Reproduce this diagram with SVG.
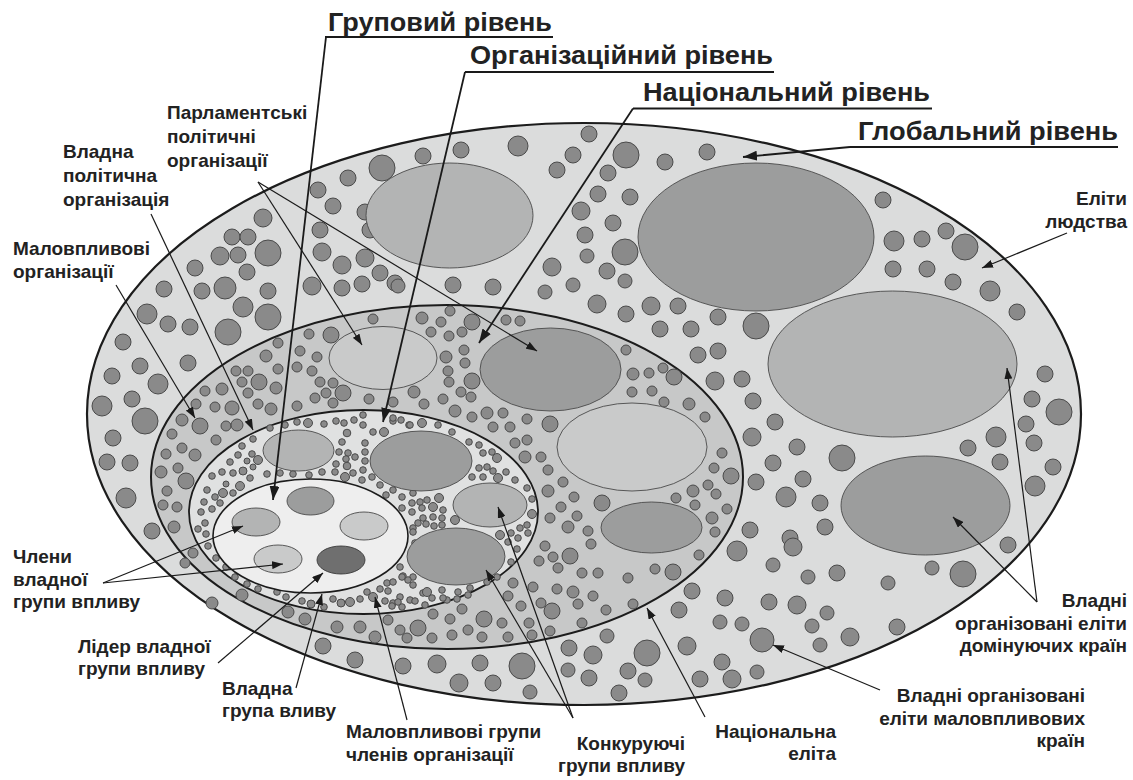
<svg xmlns="http://www.w3.org/2000/svg" width="1133" height="780" viewBox="0 0 1133 780">
<defs>
<style>
.t{font-family:"Liberation Sans",Arial,sans-serif;font-weight:bold;fill:#222}
.h{font-size:25px}
.l{font-size:19px}
.e{text-anchor:end}
.b0{fill:#dbdcdc;stroke:#1c1c1c;stroke-width:2.2}
.b1{fill:#c7c8c8;stroke:#1c1c1c;stroke-width:2}
.b2{fill:#e0e1e1;stroke:#1c1c1c;stroke-width:1.8}
.b3{fill:#eeeeee;stroke:#1c1c1c;stroke-width:1.6}
.g1{fill:#9c9d9d;stroke:#4a4a4a;stroke-width:0.9}
.g2{fill:#b3b4b4;stroke:#4a4a4a;stroke-width:0.9}
.g3{fill:#c9caca;stroke:#4a4a4a;stroke-width:0.9}
.g4{fill:#6f6f6f;stroke:#3a3a3a;stroke-width:0.9}
.s circle{fill:#8a8a8a;stroke:#4a4a4a;stroke-width:1}
.ln{stroke:#1a1a1a;stroke-width:1.2;fill:none}
.lt{stroke:#1a1a1a;stroke-width:1.8;fill:none}
.ul{stroke:#1a1a1a;stroke-width:1.8}
</style>
<marker id="a" markerUnits="userSpaceOnUse" markerWidth="11" markerHeight="8" refX="11" refY="4" orient="auto"><path d="M0,0 L11,4 L0,8 z" fill="#1a1a1a"/></marker>
<marker id="A" markerUnits="userSpaceOnUse" markerWidth="14" markerHeight="10" refX="14" refY="5" orient="auto"><path d="M0,0 L14,5 L0,10 z" fill="#1a1a1a"/></marker>
</defs>

<g id="global-level">
<ellipse class="b0" cx="584" cy="414" rx="497" ry="291"/>
<g class="s">
<circle cx="382" cy="168" r="13"/><circle cx="348" cy="178" r="8"/><circle cx="318" cy="190" r="8"/><circle cx="333" cy="206" r="8"/><circle cx="365" cy="212" r="8"/><circle cx="370" cy="230" r="8"/><circle cx="320" cy="230" r="8"/><circle cx="263" cy="218" r="9"/><circle cx="232" cy="237" r="8"/><circle cx="248" cy="237" r="8"/><circle cx="268" cy="253" r="13"/><circle cx="220" cy="256" r="9"/><circle cx="238" cy="255" r="8"/><circle cx="195" cy="268" r="8"/><circle cx="247" cy="272" r="8"/><circle cx="225" cy="288" r="11"/><circle cx="268" cy="291" r="8"/><circle cx="164" cy="289" r="8"/><circle cx="202" cy="291" r="8"/><circle cx="322" cy="252" r="9"/><circle cx="342" cy="265" r="9"/><circle cx="365" cy="258" r="9"/><circle cx="380" cy="273" r="8"/><circle cx="362" cy="284" r="8"/><circle cx="395" cy="283" r="8"/><circle cx="312" cy="286" r="9"/><circle cx="342" cy="288" r="8"/>
<circle cx="147" cy="314" r="10"/><circle cx="168" cy="324" r="8"/><circle cx="190" cy="327" r="8"/><circle cx="243" cy="307" r="10"/><circle cx="268" cy="317" r="13"/><circle cx="228" cy="332" r="13"/><circle cx="123" cy="342" r="8"/><circle cx="188" cy="363" r="8"/><circle cx="112" cy="376" r="8"/><circle cx="140" cy="366" r="8"/><circle cx="158" cy="384" r="10"/><circle cx="102" cy="406" r="10"/><circle cx="132" cy="399" r="8"/><circle cx="145" cy="421" r="13"/><circle cx="113" cy="438" r="8"/><circle cx="107" cy="462" r="8"/><circle cx="130" cy="463" r="8"/><circle cx="126" cy="498" r="10"/><circle cx="152" cy="531" r="8"/><circle cx="212" cy="603" r="6"/><circle cx="323" cy="646" r="8"/><circle cx="355" cy="660" r="8"/>
<circle cx="423" cy="156" r="8"/><circle cx="461" cy="150" r="8"/><circle cx="518" cy="146" r="10"/><circle cx="589" cy="134" r="8"/><circle cx="573" cy="155" r="8"/><circle cx="557" cy="170" r="8"/><circle cx="626" cy="155" r="13"/><circle cx="608" cy="173" r="8"/><circle cx="598" cy="194" r="8"/><circle cx="630" cy="197" r="8"/><circle cx="581" cy="211" r="9"/><circle cx="613" cy="223" r="8"/><circle cx="585" cy="235" r="8"/><circle cx="625" cy="252" r="13"/><circle cx="587" cy="256" r="7"/><circle cx="552" cy="267" r="9"/><circle cx="607" cy="271" r="8"/><circle cx="625" cy="281" r="7"/><circle cx="573" cy="285" r="7"/><circle cx="545" cy="292" r="7"/><circle cx="665" cy="162" r="8"/><circle cx="707" cy="152" r="8"/><circle cx="453" cy="285" r="8"/><circle cx="493" cy="287" r="8"/><circle cx="398" cy="286" r="7"/>
<circle cx="597" cy="304" r="9"/><circle cx="626" cy="314" r="8"/><circle cx="651" cy="306" r="9"/><circle cx="678" cy="306" r="8"/><circle cx="660" cy="329" r="8"/><circle cx="691" cy="329" r="8"/><circle cx="718" cy="317" r="8"/><circle cx="756" cy="326" r="13"/><circle cx="698" cy="355" r="8"/><circle cx="718" cy="351" r="8"/><circle cx="715" cy="381" r="9"/><circle cx="742" cy="379" r="8"/><circle cx="753" cy="401" r="8"/><circle cx="775" cy="422" r="8"/><circle cx="752" cy="437" r="9"/><circle cx="773" cy="463" r="8"/><circle cx="756" cy="482" r="8"/><circle cx="750" cy="530" r="8"/>
<circle cx="883" cy="200" r="8"/><circle cx="894" cy="241" r="10"/><circle cx="922" cy="239" r="8"/><circle cx="946" cy="231" r="8"/><circle cx="965" cy="247" r="13"/><circle cx="893" cy="269" r="8"/><circle cx="927" cy="269" r="8"/><circle cx="953" cy="282" r="8"/><circle cx="990" cy="291" r="10"/><circle cx="1017" cy="312" r="8"/><circle cx="1045" cy="374" r="8"/><circle cx="1032" cy="399" r="8"/><circle cx="1059" cy="412" r="13"/><circle cx="1026" cy="424" r="8"/><circle cx="1034" cy="443" r="8"/><circle cx="996" cy="437" r="10"/><circle cx="968" cy="448" r="8"/><circle cx="1000" cy="462" r="8"/><circle cx="1053" cy="467" r="8"/><circle cx="1035" cy="486" r="10"/>
<circle cx="797" cy="447" r="8"/><circle cx="842" cy="458" r="13"/><circle cx="803" cy="479" r="8"/><circle cx="786" cy="497" r="10"/><circle cx="820" cy="503" r="8"/><circle cx="825" cy="527" r="8"/><circle cx="790" cy="538" r="8"/><circle cx="1008" cy="545" r="8"/><circle cx="963" cy="574" r="13"/><circle cx="932" cy="568" r="7"/><circle cx="888" cy="583" r="7"/><circle cx="837" cy="573" r="8"/><circle cx="808" cy="577" r="7"/><circle cx="773" cy="565" r="7"/><circle cx="793" cy="547" r="9"/><circle cx="769" cy="602" r="8"/><circle cx="797" cy="605" r="9"/><circle cx="827" cy="613" r="7"/><circle cx="812" cy="626" r="7"/><circle cx="850" cy="637" r="9"/><circle cx="820" cy="645" r="7"/><circle cx="897" cy="627" r="8"/><circle cx="762" cy="640" r="12"/><circle cx="737" cy="551" r="10"/>
<circle cx="403" cy="666" r="8"/><circle cx="437" cy="664" r="9"/><circle cx="459" cy="683" r="9"/><circle cx="480" cy="663" r="8"/><circle cx="493" cy="683" r="8"/><circle cx="522" cy="666" r="13"/><circle cx="530" cy="692" r="7"/><circle cx="569" cy="648" r="8"/><circle cx="593" cy="655" r="9"/><circle cx="607" cy="636" r="7"/><circle cx="568" cy="670" r="7"/><circle cx="589" cy="678" r="8"/><circle cx="619" cy="693" r="8"/><circle cx="647" cy="653" r="13"/><circle cx="628" cy="671" r="8"/><circle cx="645" cy="680" r="7"/><circle cx="687" cy="646" r="9"/><circle cx="679" cy="610" r="8"/><circle cx="692" cy="591" r="8"/><circle cx="725" cy="598" r="8"/><circle cx="720" cy="622" r="7"/><circle cx="742" cy="624" r="7"/><circle cx="722" cy="662" r="8"/><circle cx="700" cy="679" r="8"/><circle cx="732" cy="679" r="9"/><circle cx="757" cy="672" r="7"/>
</g>
<ellipse class="g2" cx="449.5" cy="215.5" rx="83.5" ry="52.5"/>
<ellipse class="g1" cx="756" cy="237" rx="118" ry="74"/>
<ellipse class="g2" cx="892.5" cy="364" rx="124.5" ry="73"/>
<ellipse class="g1" cx="925.5" cy="505.5" rx="84.5" ry="49.5"/>
</g>

<g id="national-level">
<ellipse class="b1" cx="447" cy="477" rx="296" ry="172"/>
<g class="s">
<circle cx="373" cy="319" r="5"/><circle cx="309" cy="334" r="5"/><circle cx="331" cy="335" r="8"/><circle cx="278" cy="343" r="5"/><circle cx="300" cy="351" r="5"/><circle cx="317" cy="357" r="5"/><circle cx="266" cy="356" r="6"/><circle cx="278" cy="369" r="5"/><circle cx="297" cy="367" r="5"/><circle cx="312" cy="371" r="5"/><circle cx="236" cy="371" r="5"/><circle cx="248" cy="371" r="5"/><circle cx="242" cy="382" r="5"/><circle cx="259" cy="382" r="8"/><circle cx="276" cy="388" r="6"/><circle cx="248" cy="393" r="5"/><circle cx="320" cy="382" r="5"/><circle cx="333" cy="383" r="5"/><circle cx="343" cy="393" r="8"/><circle cx="326" cy="393" r="5"/><circle cx="315" cy="398" r="5"/><circle cx="333" cy="403" r="5"/><circle cx="297" cy="406" r="5"/><circle cx="369" cy="399" r="5"/><circle cx="393" cy="402" r="5"/><circle cx="205" cy="391" r="5"/><circle cx="222" cy="389" r="6"/><circle cx="196" cy="404" r="5"/><circle cx="215" cy="407" r="5"/><circle cx="232" cy="408" r="7"/><circle cx="258" cy="404" r="5"/><circle cx="271" cy="409" r="6"/><circle cx="182" cy="420" r="6"/><circle cx="200" cy="426" r="8"/><circle cx="226" cy="426" r="5"/><circle cx="237" cy="425" r="6"/><circle cx="172" cy="434" r="5"/><circle cx="216" cy="440" r="5"/><circle cx="182" cy="448" r="5"/><circle cx="166" cy="454" r="5"/><circle cx="195" cy="455" r="6"/><circle cx="178" cy="468" r="5"/><circle cx="161" cy="472" r="6"/><circle cx="186" cy="481" r="8"/><circle cx="167" cy="491" r="5"/><circle cx="163" cy="505" r="5"/><circle cx="177" cy="507" r="5"/><circle cx="174" cy="527" r="6"/><circle cx="193" cy="553" r="5"/><circle cx="207" cy="546" r="5"/><circle cx="185" cy="563" r="5"/><circle cx="242" cy="595" r="6"/><circle cx="258" cy="588" r="5"/><circle cx="288" cy="612" r="6"/><circle cx="305" cy="619" r="6"/><circle cx="337" cy="627" r="6"/><circle cx="360" cy="627" r="6"/><circle cx="375" cy="637" r="6"/><circle cx="388" cy="620" r="5"/>
<circle cx="422" cy="318" r="6"/><circle cx="441" cy="322" r="5"/><circle cx="450" cy="311" r="5"/><circle cx="472" cy="322" r="8"/><circle cx="506" cy="320" r="5"/><circle cx="520" cy="321" r="5"/><circle cx="431" cy="332" r="5"/><circle cx="449" cy="336" r="5"/><circle cx="462" cy="332" r="5"/><circle cx="464" cy="350" r="5"/><circle cx="446" cy="357" r="6"/><circle cx="465" cy="363" r="5"/><circle cx="448" cy="371" r="5"/><circle cx="472" cy="381" r="8"/><circle cx="449" cy="382" r="5"/><circle cx="414" cy="392" r="6"/><circle cx="461" cy="392" r="5"/><circle cx="471" cy="397" r="5"/><circle cx="443" cy="399" r="5"/><circle cx="424" cy="404" r="5"/><circle cx="455" cy="411" r="6"/><circle cx="487" cy="413" r="6"/><circle cx="503" cy="413" r="5"/><circle cx="472" cy="417" r="5"/><circle cx="493" cy="427" r="5"/><circle cx="510" cy="427" r="5"/><circle cx="527" cy="419" r="5"/><circle cx="550" cy="424" r="8"/><circle cx="515" cy="443" r="5"/><circle cx="527" cy="440" r="5"/><circle cx="525" cy="457" r="6"/><circle cx="541" cy="457" r="5"/><circle cx="548" cy="470" r="5"/><circle cx="563" cy="482" r="5"/><circle cx="548" cy="491" r="6"/><circle cx="574" cy="497" r="5"/><circle cx="561" cy="507" r="5"/><circle cx="550" cy="518" r="5"/><circle cx="577" cy="516" r="5"/><circle cx="568" cy="527" r="6"/><circle cx="602" cy="503" r="8"/><circle cx="588" cy="531" r="5"/>
<circle cx="626" cy="350" r="5"/><circle cx="633" cy="374" r="6"/><circle cx="649" cy="373" r="5"/><circle cx="663" cy="368" r="5"/><circle cx="674" cy="377" r="8"/><circle cx="632" cy="392" r="5"/><circle cx="652" cy="391" r="5"/><circle cx="664" cy="402" r="5"/><circle cx="689" cy="404" r="6"/><circle cx="705" cy="417" r="5"/><circle cx="722" cy="453" r="5"/><circle cx="714" cy="468" r="5"/><circle cx="731" cy="476" r="8"/><circle cx="708" cy="485" r="5"/><circle cx="693" cy="491" r="6"/><circle cx="716" cy="494" r="5"/><circle cx="676" cy="498" r="5"/><circle cx="695" cy="505" r="5"/><circle cx="712" cy="518" r="6"/><circle cx="727" cy="509" r="5"/>
<circle cx="545" cy="546" r="5"/><circle cx="570" cy="556" r="8"/><circle cx="553" cy="557" r="5"/><circle cx="539" cy="561" r="5"/><circle cx="591" cy="544" r="5"/><circle cx="558" cy="568" r="5"/><circle cx="582" cy="573" r="5"/><circle cx="598" cy="573" r="5"/><circle cx="628" cy="578" r="5"/><circle cx="655" cy="569" r="5"/><circle cx="673" cy="572" r="8"/><circle cx="699" cy="555" r="5"/><circle cx="715" cy="532" r="5"/><circle cx="513" cy="583" r="5"/><circle cx="533" cy="587" r="5"/><circle cx="557" cy="589" r="5"/><circle cx="573" cy="592" r="6"/><circle cx="593" cy="596" r="5"/><circle cx="508" cy="596" r="5"/><circle cx="521" cy="606" r="5"/><circle cx="541" cy="603" r="5"/><circle cx="552" cy="611" r="8"/><circle cx="578" cy="604" r="5"/><circle cx="606" cy="610" r="5"/><circle cx="633" cy="604" r="5"/><circle cx="582" cy="623" r="5"/><circle cx="550" cy="631" r="5"/><circle cx="532" cy="635" r="5"/><circle cx="529" cy="623" r="5"/><circle cx="508" cy="637" r="5"/><circle cx="502" cy="623" r="5"/><circle cx="484" cy="619" r="8"/><circle cx="468" cy="630" r="5"/><circle cx="482" cy="637" r="5"/><circle cx="462" cy="609" r="5"/><circle cx="450" cy="619" r="5"/><circle cx="452" cy="635" r="5"/><circle cx="433" cy="614" r="5"/><circle cx="432" cy="638" r="5"/><circle cx="418" cy="628" r="8"/><circle cx="400" cy="630" r="5"/><circle cx="407" cy="638" r="5"/>
</g>
<ellipse class="g3" cx="383" cy="358" rx="54" ry="31.5"/>
<ellipse class="g1" cx="550.5" cy="369.5" rx="70.5" ry="41.5"/>
<ellipse class="g3" cx="632" cy="447" rx="75" ry="44"/>
<ellipse class="g1" cx="651.5" cy="527.5" rx="50.5" ry="25.5"/>
</g>

<g id="organizational-level">
<ellipse class="b2" cx="363.5" cy="512" rx="174.5" ry="102"/>
<g class="s">
<circle cx="270" cy="428" r="3.3"/><circle cx="285" cy="425" r="3.3"/><circle cx="297" cy="422" r="3.3"/><circle cx="308" cy="423" r="4.5"/><circle cx="324" cy="424" r="3.3"/><circle cx="336" cy="421" r="3.3"/><circle cx="344" cy="423" r="3.3"/><circle cx="354" cy="420" r="3.3"/><circle cx="363" cy="415" r="3.3"/><circle cx="363" cy="425" r="3.3"/><circle cx="373" cy="432" r="3.3"/><circle cx="384" cy="432" r="4.5"/><circle cx="393" cy="421" r="3.3"/><circle cx="401" cy="420" r="3.3"/><circle cx="409" cy="425" r="3.3"/><circle cx="342" cy="442" r="3.3"/><circle cx="347" cy="433" r="3.8"/><circle cx="339" cy="452" r="3.3"/><circle cx="348" cy="453" r="3.3"/><circle cx="355" cy="457" r="3.3"/><circle cx="365" cy="452" r="3.3"/><circle cx="365" cy="443" r="3.3"/><circle cx="346" cy="459" r="3.3"/><circle cx="336" cy="464" r="3.3"/><circle cx="347" cy="466" r="3.8"/><circle cx="365" cy="461" r="3.3"/><circle cx="335" cy="472" r="3.3"/><circle cx="345" cy="477" r="4.5"/><circle cx="353" cy="473" r="3.3"/><circle cx="363" cy="470" r="3.3"/><circle cx="362" cy="480" r="3.3"/><circle cx="372" cy="477" r="3.3"/><circle cx="380" cy="485" r="3.3"/><circle cx="322" cy="472" r="3.3"/><circle cx="309" cy="475" r="3.3"/><circle cx="293" cy="474" r="3.3"/><circle cx="280" cy="473" r="3.3"/><circle cx="267" cy="474" r="3.3"/>
<circle cx="242" cy="446" r="3.3"/><circle cx="253" cy="439" r="3.3"/><circle cx="230" cy="462" r="3.3"/><circle cx="238" cy="455" r="3.3"/><circle cx="252" cy="454" r="3.3"/><circle cx="247" cy="461" r="3"/><circle cx="258" cy="460" r="4.5"/><circle cx="253" cy="467" r="3"/><circle cx="243" cy="471" r="4"/><circle cx="250" cy="478" r="3.3"/><circle cx="233" cy="473" r="3.3"/><circle cx="222" cy="472" r="3.3"/><circle cx="212" cy="476" r="3.3"/><circle cx="207" cy="490" r="3.3"/><circle cx="215" cy="497" r="3.3"/><circle cx="223" cy="493" r="4.5"/><circle cx="233" cy="493" r="3.3"/><circle cx="240" cy="486" r="4.5"/><circle cx="226" cy="484" r="3"/><circle cx="204" cy="502" r="3.3"/><circle cx="220" cy="503" r="3.3"/><circle cx="212" cy="509" r="3.3"/><circle cx="201" cy="512" r="3.3"/><circle cx="205" cy="523" r="3.3"/><circle cx="198" cy="529" r="3.3"/><circle cx="206" cy="534" r="3.3"/><circle cx="208" cy="546" r="3.3"/><circle cx="216" cy="558" r="3.3"/><circle cx="226" cy="567" r="3.3"/><circle cx="235" cy="577" r="3.3"/><circle cx="247" cy="584" r="3.3"/><circle cx="258" cy="589" r="3.3"/><circle cx="277" cy="592" r="3.3"/><circle cx="286" cy="597" r="3.3"/><circle cx="302" cy="601" r="3.3"/><circle cx="311" cy="604" r="4"/><circle cx="324" cy="607" r="3.3"/><circle cx="333" cy="599" r="3.3"/><circle cx="341" cy="603" r="4"/><circle cx="350" cy="602" r="4.5"/><circle cx="360" cy="599" r="3.3"/><circle cx="367" cy="592" r="3.3"/><circle cx="373" cy="597" r="4.5"/><circle cx="380" cy="589" r="3.3"/><circle cx="387" cy="583" r="3.3"/><circle cx="393" cy="603" r="3.3"/><circle cx="400" cy="597" r="3.3"/><circle cx="402" cy="607" r="3.3"/><circle cx="410" cy="600" r="3.3"/>
<circle cx="400" cy="567" r="3.3"/><circle cx="403" cy="576" r="3.3"/><circle cx="413" cy="577" r="3.3"/><circle cx="413" cy="528" r="3.3"/><circle cx="415" cy="543" r="3.3"/><circle cx="386" cy="495" r="3.3"/><circle cx="393" cy="490" r="3.3"/><circle cx="402" cy="497" r="3.3"/><circle cx="413" cy="493" r="3.3"/><circle cx="412" cy="503" r="3.3"/><circle cx="420" cy="502" r="3.3"/><circle cx="427" cy="500" r="3.3"/><circle cx="439" cy="498" r="4.5"/><circle cx="402" cy="508" r="3.3"/><circle cx="412" cy="512" r="3.3"/><circle cx="422" cy="508" r="3.3"/><circle cx="433" cy="507" r="4.5"/><circle cx="443" cy="510" r="3.3"/><circle cx="455" cy="520" r="4.5"/><circle cx="423" cy="518" r="3.3"/><circle cx="433" cy="517" r="3.3"/><circle cx="442" cy="518" r="3.3"/><circle cx="418" cy="523" r="3.3"/><circle cx="426" cy="524" r="3.3"/><circle cx="434" cy="526" r="3.3"/><circle cx="442" cy="525" r="3.3"/><circle cx="413" cy="532" r="3.3"/>
<circle cx="393" cy="418" r="3.3"/><circle cx="410" cy="425" r="3.3"/><circle cx="422" cy="423" r="4.5"/><circle cx="438" cy="425" r="3.3"/><circle cx="452" cy="432" r="3.3"/><circle cx="469" cy="442" r="3.3"/><circle cx="479" cy="445" r="3.3"/><circle cx="483" cy="453" r="3.3"/><circle cx="492" cy="452" r="3.3"/><circle cx="497" cy="458" r="4.5"/><circle cx="479" cy="468" r="3.3"/><circle cx="487" cy="467" r="3.3"/><circle cx="493" cy="471" r="3.3"/><circle cx="506" cy="472" r="3.3"/><circle cx="498" cy="478" r="4.5"/><circle cx="472" cy="477" r="3.3"/><circle cx="483" cy="477" r="3.3"/><circle cx="515" cy="480" r="3.3"/><circle cx="527" cy="488" r="3.3"/><circle cx="532" cy="499" r="3.3"/><circle cx="532" cy="514" r="4.5"/><circle cx="527" cy="525" r="3.3"/><circle cx="520" cy="528" r="3.3"/><circle cx="528" cy="533" r="3.3"/><circle cx="518" cy="538" r="3.3"/><circle cx="511" cy="533" r="3.3"/><circle cx="508" cy="542" r="3.3"/><circle cx="500" cy="535" r="4.5"/><circle cx="517" cy="549" r="3.3"/><circle cx="511" cy="562" r="3.3"/>
<circle cx="470" cy="588" r="3.3"/><circle cx="458" cy="592" r="3.3"/><circle cx="442" cy="590" r="3.3"/><circle cx="423" cy="593" r="3.3"/><circle cx="413" cy="585" r="3.3"/><circle cx="402" cy="577" r="3.3"/><circle cx="393" cy="582" r="3.3"/><circle cx="388" cy="591" r="3.3"/><circle cx="385" cy="601" r="3.3"/><circle cx="398" cy="602" r="3.3"/><circle cx="415" cy="601" r="3.3"/><circle cx="425" cy="605" r="3.3"/><circle cx="447" cy="600" r="3.3"/><circle cx="408" cy="580" r="3.3"/><circle cx="427" cy="592" r="4.5"/><circle cx="432" cy="598" r="3.3"/><circle cx="443" cy="598" r="3.3"/><circle cx="457" cy="599" r="3.3"/><circle cx="468" cy="595" r="3.3"/><circle cx="392" cy="606" r="3.3"/><circle cx="487" cy="582" r="3.3"/><circle cx="497" cy="577" r="3.3"/>
</g>
<ellipse class="g2" cx="298.5" cy="450.5" rx="35.5" ry="20.5"/>
<ellipse class="g1" cx="421" cy="461" rx="51" ry="30"/>
<ellipse class="g2" cx="490" cy="505" rx="37" ry="22"/>
<ellipse class="g1" cx="456" cy="556.5" rx="49" ry="28.5"/>
</g>

<g id="group-level">
<ellipse class="b3" cx="310.5" cy="536" rx="97.5" ry="57"/>
<ellipse class="g1" cx="310.5" cy="501" rx="23.5" ry="14"/>
<ellipse class="g2" cx="256" cy="522" rx="24" ry="14"/>
<ellipse class="g3" cx="364" cy="526" rx="24" ry="14"/>
<ellipse class="g3" cx="278" cy="559" rx="24" ry="14"/>
<ellipse class="g4" cx="341" cy="560" rx="24" ry="14"/>
</g>

<g id="connectors">
<line class="ul" x1="325" y1="37" x2="553" y2="37"/>
<line class="ul" x1="465" y1="72" x2="774" y2="72"/>
<line class="ul" x1="633" y1="108.5" x2="932" y2="108.5"/>
<line class="ul" x1="850" y1="147" x2="1118" y2="147"/>
<line class="lt" x1="326" y1="37" x2="273" y2="500" marker-end="url(#A)"/>
<line class="lt" x1="465" y1="72" x2="383" y2="422" marker-end="url(#A)"/>
<line class="lt" x1="633" y1="108.5" x2="479" y2="343" marker-end="url(#A)"/>
<line class="lt" x1="850" y1="147" x2="743" y2="157" marker-end="url(#A)"/>
<line class="ln" x1="258" y1="182" x2="362" y2="345" marker-end="url(#a)"/>
<line class="ln" x1="258" y1="182" x2="537" y2="351" marker-end="url(#a)"/>
<line class="ln" x1="151" y1="214" x2="253" y2="430" marker-end="url(#a)"/>
<line class="ln" x1="116" y1="285" x2="195" y2="418" marker-end="url(#a)"/>
<line class="ln" x1="1067" y1="233" x2="982" y2="268" marker-end="url(#a)"/>
<line class="ln" x1="103" y1="583" x2="243" y2="526" marker-end="url(#a)"/>
<line class="ln" x1="103" y1="583" x2="283" y2="564" marker-end="url(#a)"/>
<line class="ln" x1="218" y1="663" x2="323" y2="573" marker-end="url(#a)"/>
<line class="ln" x1="296" y1="688" x2="322" y2="594" marker-end="url(#a)"/>
<line class="ln" x1="407" y1="720" x2="375" y2="597" marker-end="url(#a)"/>
<line class="ln" x1="573" y1="718" x2="498" y2="507" marker-end="url(#a)"/>
<line class="ln" x1="573" y1="718" x2="486" y2="570" marker-end="url(#a)"/>
<line class="ln" x1="705" y1="717" x2="647" y2="608" marker-end="url(#a)"/>
<line class="ln" x1="880" y1="690" x2="773" y2="645" marker-end="url(#a)"/>
<line class="ln" x1="1037" y1="602" x2="953" y2="517" marker-end="url(#a)"/>
<line class="ln" x1="1037" y1="602" x2="1007" y2="368" marker-end="url(#a)"/>
</g>

<g id="title-group"><text class="t h" x="328" y="31" textLength="224" lengthAdjust="spacingAndGlyphs">Груповий рівень</text></g>
<g id="title-organizational"><text class="t h" x="470" y="64" textLength="303" lengthAdjust="spacingAndGlyphs">Організаційний рівень</text></g>
<g id="title-national"><text class="t h" x="643" y="101" textLength="287" lengthAdjust="spacingAndGlyphs">Національний рівень</text></g>
<g id="title-global"><text class="t h" x="858" y="140" textLength="260" lengthAdjust="spacingAndGlyphs">Глобальний рівень</text></g>

<g id="label-parliamentary" class="t l"><text x="167" y="119">Парламентські</text><text x="167" y="143">політичні</text><text x="167" y="167">організації</text></g>
<g id="label-ruling-org" class="t l"><text x="63" y="158">Владна</text><text x="63" y="182">політична</text><text x="63" y="206">організація</text></g>
<g id="label-minor-orgs" class="t l"><text x="13" y="255">Маловпливові</text><text x="13" y="278">організації</text></g>
<g id="label-elites-humanity" class="t l e"><text x="1127" y="205">Еліти</text><text x="1127" y="228">людства</text></g>
<g id="label-members" class="t l"><text x="13" y="563">Члени</text><text x="13" y="586">владної</text><text x="13" y="608">групи впливу</text></g>
<g id="label-leader" class="t l"><text x="78" y="653">Лідер владної</text><text x="78" y="675">групи впливу</text></g>
<g id="label-ruling-group" class="t l"><text x="222" y="695">Владна</text><text x="222" y="717">група вливу</text></g>
<g id="label-minor-groups" class="t l"><text x="346" y="738">Маловпливові групи</text><text x="346" y="761">членів організації</text></g>
<g id="label-competing" class="t l e"><text x="685" y="750">Конкуруючі</text><text x="685" y="772">групи впливу</text></g>
<g id="label-national-elite" class="t l e"><text x="836" y="738">Національна</text><text x="836" y="760">еліта</text></g>
<g id="label-minor-countries" class="t l e"><text x="1085" y="702">Владні організовані</text><text x="1085" y="725">еліти маловпливових</text><text x="1085" y="747">країн</text></g>
<g id="label-dominant-countries" class="t l e"><text x="1127" y="607">Владні</text><text x="1127" y="630">організовані еліти</text><text x="1127" y="652">домінуючих країн</text></g>
</svg>
